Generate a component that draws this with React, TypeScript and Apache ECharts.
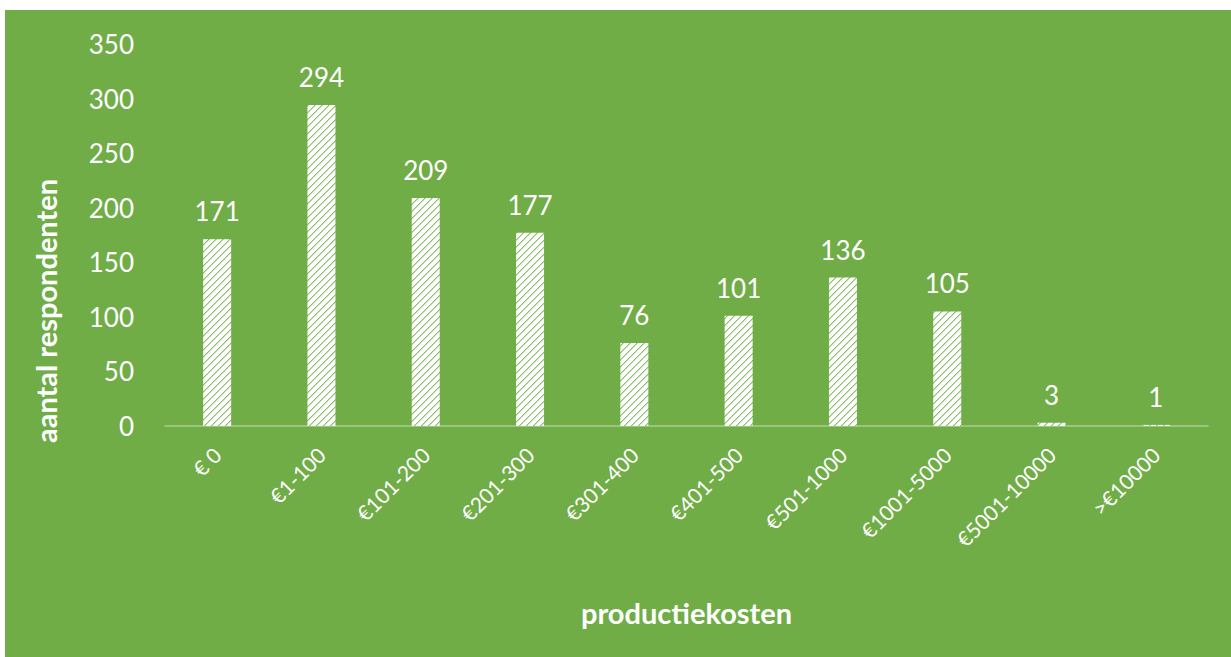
import React, { useEffect, useRef } from "react";
import * as echarts from "echarts";

const categories = ["€ 0", "€1-100", "€101-200", "€201-300", "€301-400", "€401-500", "€501-1000", "€1001-5000", "€5001-10000", ">€10000"];
const values = [171, 294, 209, 177, 76, 101, 136, 105, 3, 1];
const yMax = 350;
const yInterval = 50;
const xTitle = "productiekosten";
const yTitle = "aantal respondenten";

const GREEN = "#70AD47";
const FONT = "Lato, 'Open Sans', sans-serif";

function makeHatch(): HTMLCanvasElement {
  const n = 7;
  const c = document.createElement("canvas");
  c.width = n;
  c.height = n;
  const ctx = c.getContext("2d")!;
  ctx.fillStyle = "#ffffff";
  ctx.fillRect(0, 0, n, n);
  for (let i = 0; i < n; i++) {
    const x = n - 1 - i;
    ctx.fillStyle = "#8cbf6b";
    ctx.fillRect(x, i, 1, 1);
    ctx.fillStyle = "#c5e0b3";
    ctx.fillRect((x + 1) % n, i, 1, 1);
  }
  return c;
}

export default function App() {
  const ref = useRef<HTMLDivElement>(null);
  useEffect(() => {
    if (!ref.current) return;
    const chart = echarts.init(ref.current, undefined, { renderer: "svg" });
    const hatch = makeHatch();
    chart.setOption({
      animation: false,
      backgroundColor: "transparent",
      grid: { left: 165, right: 23, top: 44, bottom: 231, containLabel: false },
      graphic: [
        {
          type: "text",
          x: 45,
          y: 311,
          rotation: Math.PI / 2,
          style: {
            text: yTitle,
            fill: "#ffffff",
            font: `bold 29px ${FONT}`,
            textAlign: "center",
            textVerticalAlign: "middle",
          },
        },
      ],
      xAxis: {
        type: "category",
        data: categories,
        name: xTitle,
        nameLocation: "middle",
        nameGap: 172,
        nameTextStyle: { color: "#ffffff", fontSize: 29, fontWeight: "bold", fontFamily: FONT },
        axisLine: { show: true, lineStyle: { color: "rgba(255,255,255,0.4)", width: 1.5 } },
        axisTick: { show: false },
        axisLabel: { rotate: 45, color: "#ffffff", fontSize: 21, fontFamily: FONT, margin: 25, interval: 0 },
      },
      yAxis: {
        type: "value",
        min: 0,
        max: yMax,
        interval: yInterval,
        axisLine: { show: false },
        axisTick: { show: false },
        splitLine: { show: false },
        axisLabel: { color: "#ffffff", fontSize: 26, fontFamily: FONT, margin: 31 },
      },
      series: [
        {
          type: "bar",
          data: values,
          barWidth: 28,
          itemStyle: { color: { image: hatch, repeat: "repeat" } },
          label: {
            show: true,
            position: "top",
            distance: 15,
            color: "#ffffff",
            fontSize: 26,
            fontFamily: FONT,
          },
        },
      ],
    });
    return () => chart.dispose();
  }, []);
  return (
    <div style={{ position: "fixed", left: 0, top: 0, width: 1231, height: 657, background: "#ffffff" }}>
      <div style={{ position: "absolute", left: 5, top: 10, right: 0, bottom: 0, background: GREEN }} />
      <div ref={ref} style={{ position: "absolute", left: 0, top: 0, width: 1231, height: 657 }} />
    </div>
  );
}
